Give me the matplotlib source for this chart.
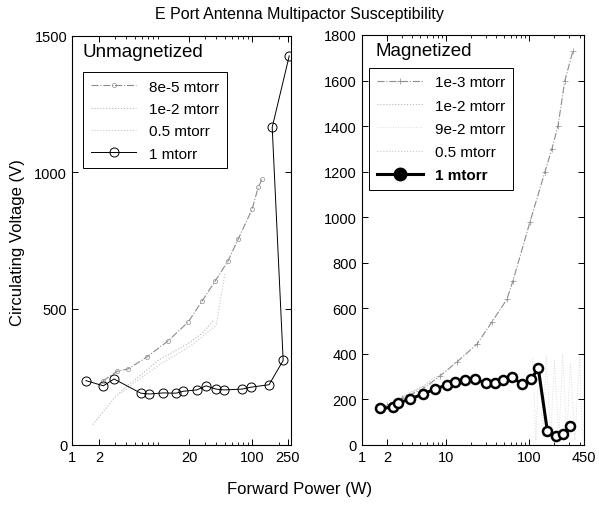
import matplotlib
matplotlib.use("Agg")
import matplotlib.pyplot as plt
from matplotlib.lines import Line2D
from matplotlib.ticker import FixedLocator, NullFormatter, LogLocator

plt.rcParams['font.family'] = ['Liberation Sans', 'DejaVu Sans']

# ---- left panel: unmagnetized ----
um_8e5_x = [2.2, 3.2, 4.2, 6.8, 11.6, 19.5, 27.8, 38.8, 54, 70, 100, 117, 129]
um_8e5_v = [235, 271, 279, 323, 381, 451, 528, 601, 675, 755, 865, 946, 975]

um_1e2_x = [1.7, 2.2, 3.0, 4.2, 6.0, 9, 14, 20, 28, 38]
um_1e2_v = [75, 120, 175, 220, 260, 310, 345, 375, 410, 460]

um_05_x = [3.5, 5, 7, 10, 15, 22, 30, 40, 46, 50]
um_05_v = [190, 230, 265, 300, 335, 370, 405, 440, 560, 630]

um_1_x = [1.43, 2.23, 2.93, 5.8, 7.2, 10.3, 14.3, 17.2, 24.3, 30.8,
          39.5, 48.9, 77.4, 96.8, 154, 221, 167, 258]
um_1_v = [236, 217, 242, 190, 187, 191, 190, 197, 202, 217,
          205, 202, 205, 212, 221, 310, 1165, 1427]

# ---- right panel: magnetized ----
m_1e3_x = [2.0, 3.0, 5.36, 8.55, 13.6, 23.7, 35.7, 54, 63.7, 102, 154, 186, 220, 266, 332]
m_1e3_v = [175, 205, 246, 303, 364, 443, 540, 640, 720, 980, 1200, 1300, 1400, 1600, 1730]

m_1e2_x = [2.2, 3, 4, 5.5, 7, 9]
m_1e2_v = [185, 210, 235, 260, 290, 310]

m_9e2_x = [110, 120, 130, 145, 160, 180, 200, 225, 250, 280, 310, 350, 400, 430]
m_9e2_v = [380, 20, 360, 40, 390, 30, 370, 20, 400, 30, 360, 20, 390, 40]

m_05_x = [2.5, 3.5, 5, 7]
m_05_v = [190, 220, 250, 270]

m_1_x = [1.64, 2.33, 2.71, 3.75, 5.4, 7.45, 10.3, 12.9, 17.0, 22.4, 30.3,
         38.8, 48.8, 62.5, 80.9, 106, 128, 164, 208, 254, 306]
m_1_v = [161, 165, 184, 202, 224, 246, 263, 275, 287, 290, 271,
         272, 287, 297, 268, 290, 337, 63, 41, 48, 82]

left_ticks = [1, 2, 20, 100, 250]
right_ticks = [1, 2, 10, 100, 450]

fig = plt.figure(figsize=(5.99, 5.06), dpi=100)
ax1 = fig.add_axes([0.1202, 0.1186, 0.3656, 0.8083])
ax2 = fig.add_axes([0.6043, 0.1186, 0.3706, 0.8103])

grey = '#8c8c8c'
lgrey = '#b8b8b8'

# left
h1, = ax1.plot(um_8e5_x, um_8e5_v, color=grey, ls='-.', lw=0.8, marker='o',
               ms=3, mfc='none', mew=0.5)
h2, = ax1.plot(um_1e2_x, um_1e2_v, color=lgrey, ls=':', lw=0.8)
h3, = ax1.plot(um_05_x, um_05_v, color='#c8c8c8', ls=':', lw=0.8)
h4, = ax1.plot(um_1_x, um_1_v, color='black', lw=0.7, marker='o', ms=6.5,
               mfc='none', mew=0.7)
leg1 = ax1.legend([h1, h2, h3, h4], ['8e-5 mtorr', '1e-2 mtorr', '0.5 mtorr', '1 mtorr'],
                  loc='upper left', bbox_to_anchor=(0.05, 0.912), borderaxespad=0,
                  fontsize=11, handlelength=3.0, fancybox=False, framealpha=1,
                  edgecolor='black', labelspacing=0.55, borderpad=0.5)
leg1.get_frame().set_linewidth(0.7)
ax1.text(0.05, 0.963, 'Unmagnetized', transform=ax1.transAxes, fontsize=13.5,
         va='center', ha='left')
ax1.set_xscale('log')
ax1.set_xlim(1, 270)
ax1.set_ylim(0, 1500)
ax1.set_yticks([0, 500, 1000, 1500])
ax1.xaxis.set_major_locator(FixedLocator(left_ticks))
ax1.set_xticklabels([str(t) for t in left_ticks])

# right
g1, = ax2.plot(m_1e3_x, m_1e3_v, color=grey, ls='-.', lw=0.8, marker='+',
               ms=5, mew=0.5)
g2, = ax2.plot(m_1e2_x, m_1e2_v, color=lgrey, ls=':', lw=0.8)
g3, = ax2.plot(m_9e2_x, m_9e2_v, color='#dcdcdc', ls=':', lw=0.7)
g4, = ax2.plot(m_05_x, m_05_v, color='#c8c8c8', ls=':', lw=0.8)
ax2.plot(m_1_x, m_1_v, color='black', lw=2.2, marker='o', ms=6.5,
         mfc='white', mew=1.8)
g5 = Line2D([], [], color='black', lw=2.2, marker='o', ms=9, mfc='black')
leg2 = ax2.legend([g1, g2, g3, g4, g5],
                  ['1e-3 mtorr', '1e-2 mtorr', '9e-2 mtorr', '0.5 mtorr', '1 mtorr'],
                  loc='upper left', bbox_to_anchor=(0.032, 0.92), borderaxespad=0,
                  fontsize=11, handlelength=3.0, fancybox=False, framealpha=1,
                  edgecolor='black', labelspacing=0.6, borderpad=0.5)
leg2.get_frame().set_linewidth(0.7)
leg2.get_texts()[4].set_fontweight('bold')
ax2.text(0.059, 0.961, 'Magnetized', transform=ax2.transAxes, fontsize=13.5,
         va='center', ha='left')
ax2.set_xscale('log')
ax2.set_xlim(1, 450)
ax2.set_ylim(0, 1800)
ax2.set_yticks(range(0, 1801, 200))
ax2.xaxis.set_major_locator(FixedLocator(right_ticks))
ax2.set_xticklabels([str(t) for t in right_ticks])

for ax in (ax1, ax2):
    ax.xaxis.set_minor_locator(LogLocator(base=10, subs=range(2, 10)))
    ax.xaxis.set_minor_formatter(NullFormatter())
    ax.tick_params(which='both', direction='in', top=True, right=True, labelsize=10.5)
    ax.tick_params(which='major', length=4, width=0.7)
    ax.tick_params(which='minor', length=2, width=0.6)
    for s in ax.spines.values():
        s.set_linewidth(0.8)

fig.text(0.5, 0.972, 'E Port Antenna Multipactor Susceptibility', ha='center',
         va='center', fontsize=11.5)
fig.text(0.5, 0.032, 'Forward Power (W)', ha='center', va='center', fontsize=12)
fig.text(0.03, 0.52, 'Circulating Voltage (V)', ha='center', va='center',
         fontsize=12, rotation=90)

fig.savefig('out.png', dpi=100)
